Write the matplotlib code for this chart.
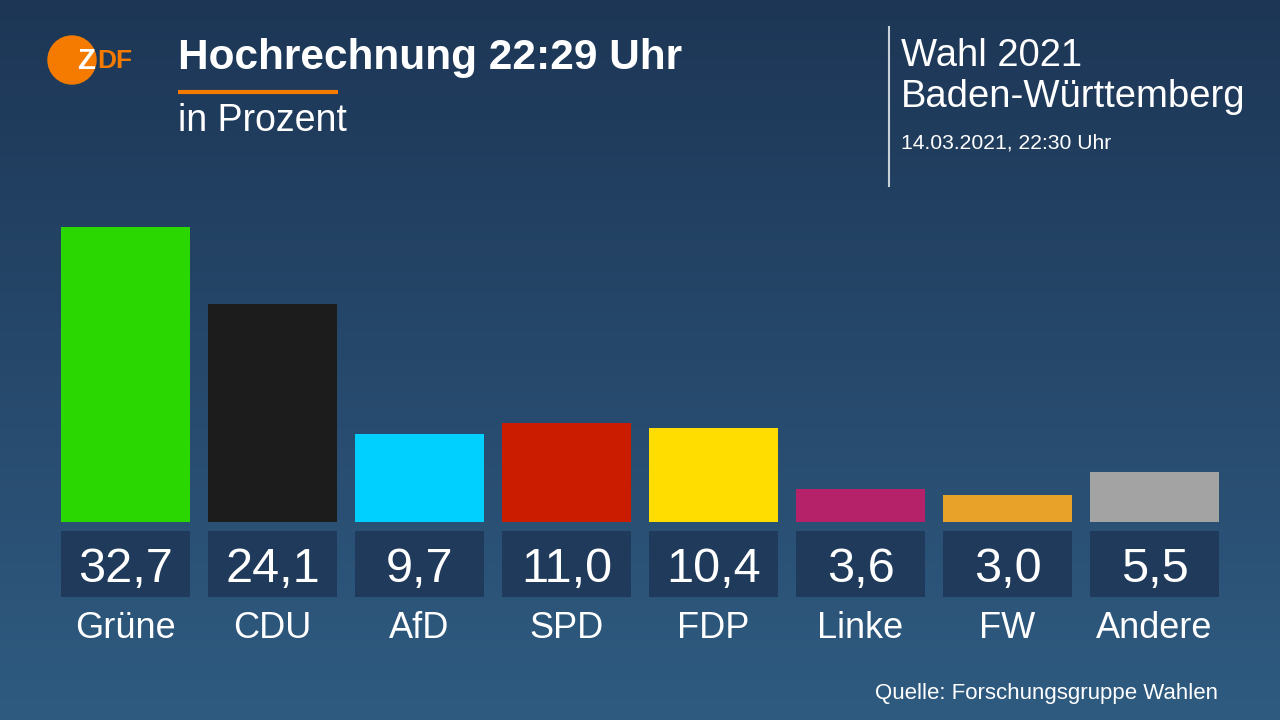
import numpy as np
import matplotlib
matplotlib.use('Agg')
import matplotlib.pyplot as plt
from matplotlib.patches import Circle
from matplotlib.colors import LinearSegmentedColormap

parties = ['Grüne', 'CDU', 'AfD', 'SPD', 'FDP', 'Linke', 'FW', 'Andere']
values = [32.7, 24.1, 9.7, 11.0, 10.4, 3.6, 3.0, 5.5]
colors = ['#2bd700', '#1c1c1c', '#00d0ff', '#cc1c00', '#ffdd00', '#b5226a', '#e8a22a', '#a3a3a3']
value_labels = ['32,7', '24,1', '9,7', '11,0', '10,4', '3,6', '3,0', '5,5']

plt.rcParams['font.family'] = ['Liberation Sans', 'DejaVu Sans']

fig = plt.figure(figsize=(12.8, 7.2), dpi=100)

# background gradient
bg = fig.add_axes([0, 0, 1, 1])
grad = np.linspace(0, 1, 256).reshape(-1, 1)
cmap = LinearSegmentedColormap.from_list('bg', ['#1d3656', '#2f5b80'])
bg.imshow(grad, aspect='auto', cmap=cmap, extent=[0, 1280, 720, 0])
bg.set_xlim(0, 1280)
bg.set_ylim(720, 0)
bg.axis('off')

# logo
bg.add_patch(Circle((72, 60), 24, color='#f47b00'))
bg.text(86, 61, 'Z', color='white', fontsize=21, fontweight='bold', ha='center', va='center')
bg.text(97, 61, 'DF', color='#f47b00', fontsize=19, fontweight='bold', ha='left', va='center')

# title block
bg.text(178, 58, 'Hochrechnung 22:29 Uhr', color='white', fontsize=30.5, fontweight='bold', va='center')
bg.plot([178, 338], [92, 92], color='#f47b00', lw=3, solid_capstyle='butt')
bg.text(178, 121, 'in Prozent', color='white', fontsize=27, va='center')

bg.plot([889, 889], [27, 186], color='#c8d0d8', lw=1.5)
bg.text(901, 56, 'Wahl 2021', color='white', fontsize=27.5, va='center')
bg.text(901, 97, 'Baden-Württemberg', color='white', fontsize=27.5, va='center')
bg.text(901, 143, '14.03.2021, 22:30 Uhr', color='white', fontsize=15.2, va='center')
bg.text(1218, 693, 'Quelle: Forschungsgruppe Wahlen', color='white', fontsize=16, ha='right', va='center')

# bars
ppu = 9.03  # pixels per percent
ax = fig.add_axes([52 / 1280, 60 / 720, 1176 / 1280, 460 / 720])
ax.patch.set_alpha(0)
x = np.arange(len(parties))
ax.bar(x, values, width=0.884, color=colors)
ax.bar(x, 66 / ppu, bottom=-75 / ppu, width=0.884, color='#1f3a5a')
for i in x:
    ax.text(i, -47 / ppu, value_labels[i], color='white', fontsize=35, ha='center', va='center')
    ax.text(i, -106 / ppu, parties[i], color='white', fontsize=26, ha='center', va='center')
ax.set_xlim(-0.5, len(parties) - 0.5)
ax.set_ylim(-138 / ppu, 322 / ppu)
ax.axis('off')

fig.savefig('out.png', dpi=100)
